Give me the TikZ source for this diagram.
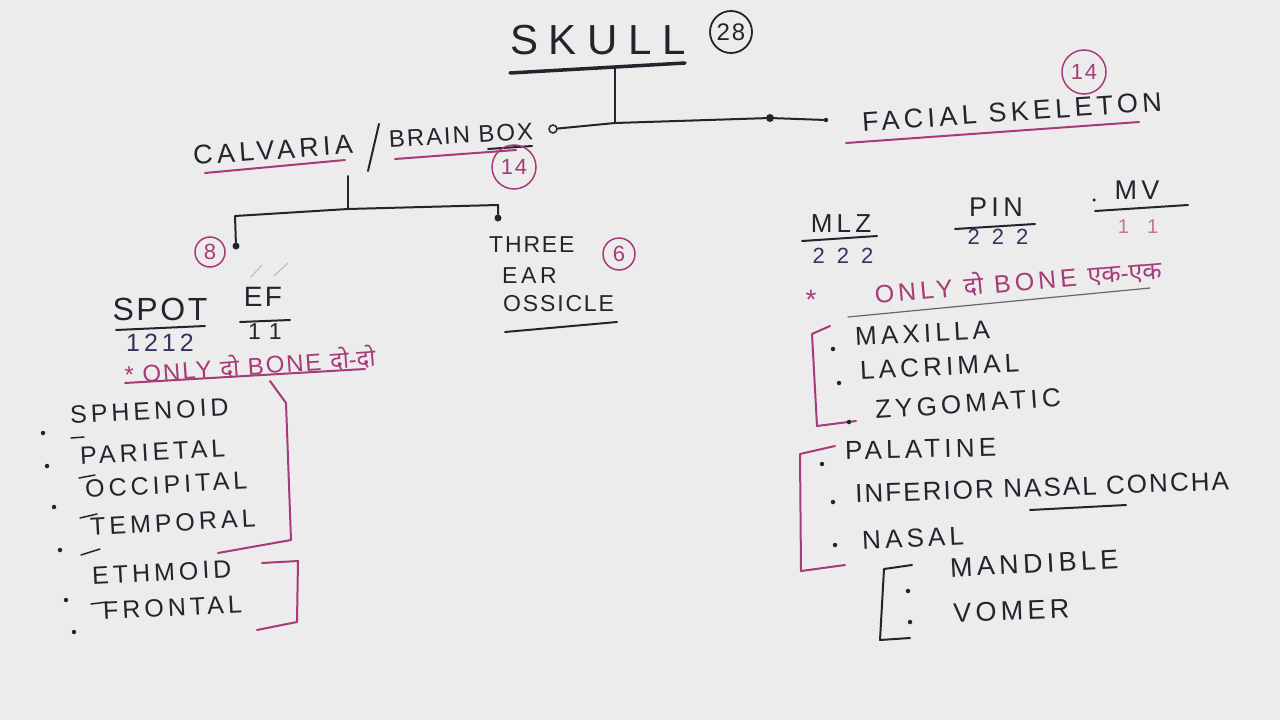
\documentclass[tikz,border=0pt]{standalone}
\usepackage{fontspec}
\setmainfont{Liberation Sans}
\newfontfamily\handfont[LetterSpace=8]{Liberation Sans}
\newfontfamily\midFont[LetterSpace=16]{Liberation Sans}
\newfontfamily\wideFont[LetterSpace=25]{Liberation Sans}
\newfontfamily\deva[Script=Devanagari]{Noto Sans}
\definecolor{paper}{HTML}{ECECEC}
\definecolor{ink}{HTML}{24242E}
\definecolor{pnk}{HTML}{A83A78}
\definecolor{blu}{HTML}{34345E}
\definecolor{faint}{HTML}{B8B8B8}
\begin{document}
\begin{tikzpicture}[x=1pt,y=-1pt,
  hw/.style={font=\handfont\fontsize{#1}{#1}\selectfont, text=ink, inner sep=0pt},
  hw/.default=27,
  hs/.style={font=\midFont\fontsize{#1}{#1}\selectfont, text=ink, inner sep=0pt},
  hs/.default=26,
  pk/.style={font=\handfont\fontsize{#1}{#1}\selectfont, text=pnk, inner sep=0pt},
  pk/.default=22,
  pks/.style={font=\midFont\fontsize{#1}{#1}\selectfont, text=pnk, inner sep=0pt},
  pks/.default=25,
  inkline/.style={draw=ink, line width=2pt, line cap=round, line join=round},
  pinkline/.style={draw=pnk, line width=2pt, line cap=round, line join=round},
  pcirc/.style={circle, draw=pnk, line width=1.5pt, text=pnk, inner sep=0pt, font=\handfont\fontsize{22}{22}\selectfont},
  bcirc/.style={circle, draw=ink, line width=1.8pt, text=ink, inner sep=0pt, font=\handfont\fontsize{24}{24}\selectfont},
  bullet/.style={circle, fill=ink, inner sep=0pt, minimum size=4.5pt},
  jdot/.style={circle, fill=ink, inner sep=0pt, minimum size=8pt},
  odot/.style={circle, draw=ink, fill=paper, line width=1.5pt, inner sep=0pt, minimum size=8pt},
]
\fill[paper] (0,0) rectangle (1280,720);
\useasboundingbox (0,0) rectangle (1280,720);

% ---------- SKULL ----------
\node[hw, font=\wideFont\fontsize{42}{42}\selectfont] (skull) at (598,40) {SKULL};
\node[bcirc, minimum size=42pt] (n28) at (731,32) {28};
\coordinate (barL) at (510,73);
\coordinate (barR) at (685,63);
\draw[inkline, line width=3.5pt] (barL) -- (barR);
\coordinate (barM) at (615,67);
\coordinate (junc) at (615,123);
\node[odot] (oc) at (553,129) {};
\node[jdot] (fd) at (770,118) {};
\node[bullet] (sd) at (826,120) {};
\draw[inkline] (barM) -- (junc);
\draw[inkline] (oc) -- (junc) -- (fd) -- (sd);

% ---------- CALVARIA / BRAIN BOX ----------
\node[hs=27, rotate=4] (calv) at (273,150) {CALVARIA};
\draw[pinkline] (205,173) -- (345,160);
\draw[inkline] (379,124) -- (368,171);
\node[hw=24, rotate=3] (brain) at (461,135) {BRAIN BOX};
\draw[pinkline] (395,159) -- (516,150);
\draw[inkline] (488,149) -- (532,146);
\node[pcirc, minimum size=44pt] (c14a) at (514,167) {14};

% ---------- FACIAL SKELETON ----------
\node[hs=27, rotate=4] (facial) at (1012,112) {FACIAL SKELETON};
\draw[pinkline] (846,143) -- (1139,122);
\node[pcirc, minimum size=44pt] (c14b) at (1084,72) {14};

% ---------- calvaria tree ----------
\coordinate (cv1) at (348,176);
\coordinate (cv2) at (348,209);
\coordinate (tl) at (235,216);
\coordinate (tr) at (498,205);
\node[jdot, minimum size=7pt] (d8) at (236,246) {};
\node[jdot, minimum size=7pt] (dE) at (498,218) {};
\draw[inkline] (cv1) -- (cv2);
\draw[inkline] (d8) -- (tl) -- (cv2) -- (tr) -- (dE);
\node[pcirc, minimum size=30pt] (c8) at (210,252) {8};

% three ear ossicle
\node[hw=23, anchor=west] (three) at (489,245) {THREE};
\node[hs=23, anchor=west] (ear) at (502,276) {EAR};
\node[hw=23, anchor=west] (ossicle) at (503,304) {OSSICLE};
\draw[inkline] (505,332) -- (617,322);
\node[pcirc, minimum size=32pt] (c6) at (619,254) {6};

% SPOT  EF
\node[hw=32] (spot) at (160,309) {SPOT};
\draw[inkline] (116,330) -- (205,326);
\node[hs=25, text=blu] (n1212) at (160,343) {1212};
\node[hw=28] (ef) at (263,297) {EF};
\draw[faint, line width=1pt] (251,277) -- (262,265);
\draw[faint, line width=1pt] (274,276) -- (288,263);
\draw[inkline] (240,322) -- (290,320);
\node[hw=23] (n11) at (265,332) {1\hspace{8pt}1};

\node[pk=24, rotate=4] (onlyL) at (250,365) {* ONLY {\deva दो} BONE {\deva दो-दो}};
\draw[pinkline] (125,383) -- (365,369);

% left list
\node[hs=25, anchor=west, rotate=3] (sph) at (70,415) {SPHENOID};
\node[hs=25, anchor=west, rotate=3] (par) at (80,456) {PARIETAL};
\node[hs=25, anchor=west, rotate=3] (occ) at (85,489) {OCCIPITAL};
\node[hs=25, anchor=west, rotate=3] (tem) at (90,527) {TEMPORAL};
\node[hs=25, anchor=west, rotate=3] (eth) at (92,576) {ETHMOID};
\node[hs=25, anchor=west, rotate=3] (fro) at (103,611) {FRONTAL};
\node[bullet] (b1) at (43,433) {};
\node[bullet] (b2) at (47,466) {};
\node[bullet] (b3) at (54,507) {};
\node[bullet] (b4) at (60,550) {};
\node[bullet] (b5) at (66,600) {};
\node[bullet] (b6) at (74,632) {};
\draw[inkline, line width=1.5pt] (71,438) -- (84,437);
\draw[inkline, line width=1.5pt] (79,478) -- (95,475);
\draw[inkline, line width=1.5pt] (80,518) -- (97,514);
\draw[inkline, line width=1.5pt] (81,555) -- (100,549);
\draw[inkline, line width=1.5pt] (91,604) -- (107,602);
\draw[pinkline] (270,381) -- (286,403) -- (291,540) -- (218,553);
\draw[pinkline] (262,563) -- (298,561) -- (297,622) -- (257,630);

% ---------- right side ----------
\node[hs=26] (mlz) at (841,224) {MLZ};
\draw[inkline] (802,241) -- (877,236);
\node[hw=22, text=blu] (n222a) at (843,256) {2\hspace{12pt}2\hspace{12pt}2};
\node[hs=27] (pin) at (996,207) {PIN};
\draw[inkline] (955,229) -- (1035,224);
\node[hw=22, text=blu] (n222b) at (998,237) {2\hspace{12pt}2\hspace{12pt}2};
\node[bullet, minimum size=3.5pt] (mvd) at (1094,200) {};
\node[hs=27] (mv) at (1137,190) {MV};
\draw[inkline] (1095,211) -- (1188,205);
\node[hw=20, text=pnk!70] (n11b) at (1138,227) {1\hspace{18pt}1};

\node[pk=28] (astR) at (811,300) {*};
\node[pks=25, rotate=5] (onlyR) at (1018,281) {ONLY {\deva दो} BONE {\deva एक-एक}};
\draw[draw=ink!70, line width=1.2pt, line cap=round] (848,317) -- (1150,288);

% group 1
\draw[pinkline] (830,326) -- (812,334) -- (817,426) -- (856,421);
\node[hs=26, anchor=west, rotate=3] (max) at (855,337) {MAXILLA};
\node[hs=26, anchor=west, rotate=3] (lac) at (860,371) {LACRIMAL};
\node[hs=26, anchor=west, rotate=4] (zyg) at (875,410) {ZYGOMATIC};
\node[bullet] (r1) at (833,349) {};
\node[bullet] (r2) at (839,383) {};
\node[bullet] (r3) at (849,422) {};

% group 2
\draw[pinkline] (835,446) -- (800,454) -- (801,571) -- (845,565);
\node[hs=26, anchor=west, rotate=1.5] (pal) at (845,451) {PALATINE};
\node[hw=26, anchor=west, rotate=2] (inf) at (855,494) {INFERIOR NASAL CONCHA};
\draw[inkline] (1030,510) -- (1126,505);
\node[hs=26, anchor=west, rotate=3] (nas) at (862,541) {NASAL};
\node[bullet] (r4) at (822,464) {};
\node[bullet] (r5) at (833,502) {};
\node[bullet] (r6) at (835,545) {};

% group 3
\draw[inkline] (912,565) -- (884,569) -- (880,640) -- (910,638);
\node[hs=27, anchor=west, rotate=3] (man) at (950,568) {MANDIBLE};
\node[hs=27, anchor=west, rotate=2] (vom) at (953,613) {VOMER};
\node[bullet] (r7) at (908,591) {};
\node[bullet] (r8) at (910,622) {};
\end{tikzpicture}
\end{document}
